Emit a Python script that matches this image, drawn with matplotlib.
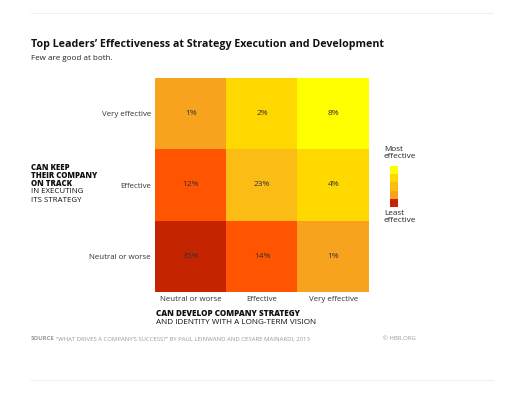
import numpy as np
import matplotlib
matplotlib.use("Agg")
import matplotlib.pyplot as plt
from matplotlib.colors import ListedColormap
from matplotlib.lines import Line2D

plt.rcParams['font.family'] = ['Open Sans', 'DejaVu Sans']

# data: rows top -> bottom, columns left -> right
row_labels = ["Very effective", "Effective", "Neutral or worse"]
col_labels = ["Neutral or worse", "Effective", "Very effective"]
values = [
    [1, 2, 8],
    [12, 23, 4],
    [35, 14, 1],
]
# colour level of each cell (0 = least effective ... 5 = most effective)
levels = [
    [2, 4, 5],
    [1, 3, 4],
    [0, 1, 2],
]
palette = ["#C42400", "#FF5500", "#F8A31E", "#FBBD15", "#FFD800", "#FFFF00"]
legend_levels = [5, 4, 3, 2, 0]

W, H = 512, 393
fig = plt.figure(figsize=(W / 100, H / 100), dpi=100)


def fx(px):
    return px / W


def fy(py):
    return 1 - py / H


# heatmap
ax = fig.add_axes([fx(155), fy(292), fx(369) - fx(155), fy(78) - fy(292)])
cmap = ListedColormap(palette)
ax.imshow(np.array(levels), cmap=cmap, vmin=-0.5, vmax=len(palette) - 0.5,
          aspect="auto", interpolation="nearest")
for i in range(3):
    for j in range(3):
        ax.text(j, i, f"{values[i][j]}%", ha="center", va="center",
                fontsize=6, color="#333333")
ax.set_xticks(range(3))
ax.set_xticklabels(col_labels, fontsize=5.7, color="#333333")
ax.set_yticks(range(3))
ax.set_yticklabels(row_labels, fontsize=5.7, color="#333333")
ax.tick_params(axis="x", length=0, pad=3)
ax.tick_params(axis="y", length=0, pad=3)
for s in ax.spines.values():
    s.set_visible(False)

# rules top and bottom
fig.add_artist(Line2D([fx(31), fx(493)], [fy(13), fy(13)], color="#eeeeee", lw=0.8))
fig.add_artist(Line2D([fx(31), fx(493)], [fy(380), fy(380)], color="#eeeeee", lw=0.8))

# title
fig.text(fx(31), fy(44), "Top Leaders\u2019 Effectiveness at Strategy Execution and Development",
         fontsize=7.7, fontweight="bold", color="#111111", va="center")
fig.text(fx(31), fy(58), "Few are good at both.", fontsize=5.8, color="#222222", va="center")

# y-axis title
for k, (txt, bold) in enumerate([("CAN KEEP", True), ("THEIR COMPANY", True), ("ON TRACK", True),
                                 ("IN EXECUTING", False), ("ITS STRATEGY", False)]):
    fig.text(fx(31), fy(167 + k * 8.3), txt, fontsize=5.7,
             fontweight="heavy" if bold else "normal", color="#111111", va="center")

# x-axis title
fig.text(fx(156), fy(313), "CAN DEVELOP COMPANY STRATEGY", fontsize=5.9,
         fontweight="heavy", color="#111111", va="center")
fig.text(fx(156), fy(322), "AND IDENTITY WITH A LONG-TERM VISION", fontsize=5.9,
         color="#111111", va="center")

# legend
lax = fig.add_axes([fx(390), fy(207), fx(398) - fx(390), fy(166) - fy(207)])
lax.imshow(np.array(legend_levels).reshape(-1, 1), cmap=cmap, vmin=-0.5,
           vmax=len(palette) - 0.5, aspect="auto", interpolation="nearest")
lax.set_xticks([])
lax.set_yticks([])
for s in lax.spines.values():
    s.set_visible(False)
fig.text(fx(384), fy(153), "Most\neffective", fontsize=5.9, color="#222222",
         va="center", linespacing=1.0)
fig.text(fx(384), fy(217), "Least\neffective", fontsize=5.9, color="#222222",
         va="center", linespacing=1.0)

# source
fig.text(fx(31), fy(339), "SOURCE", fontsize=4.3, fontweight="bold", color="#999999", va="center")
fig.text(fx(56), fy(339),
         "\u201cWHAT DRIVES A COMPANY\u2019S SUCCESS?\u201d BY PAUL LEINWAND AND CESARE MAINARDI, 2013",
         fontsize=4.3, color="#999999", va="center")
fig.text(fx(383), fy(339), "\u00a9 HBR.ORG", fontsize=4.3, color="#999999", va="center")

fig.savefig("out.png", dpi=100)
